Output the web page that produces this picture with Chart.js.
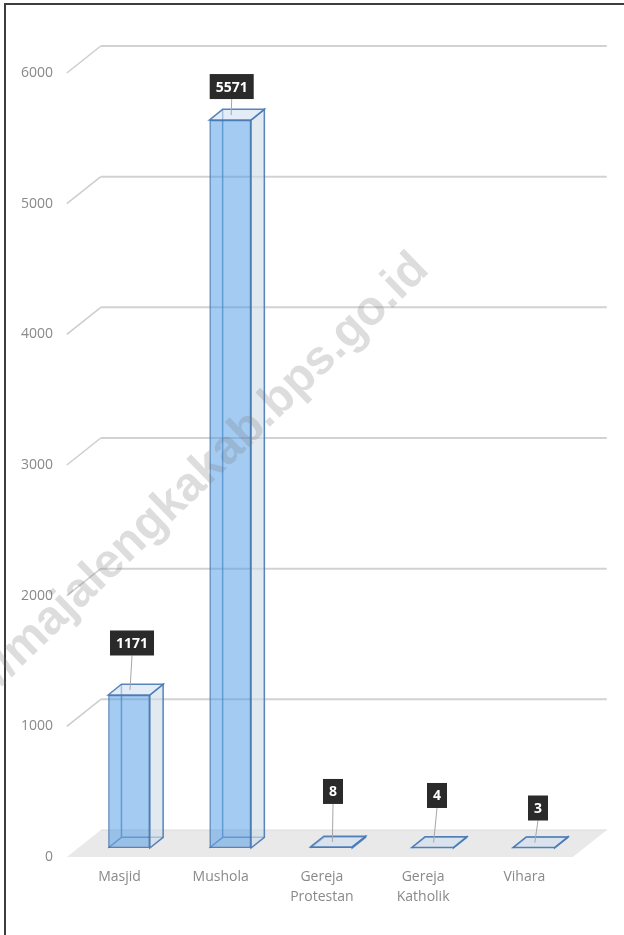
<!DOCTYPE html>
<html>
<head>
<meta charset="utf-8">
<script src="https://cdn.jsdelivr.net/npm/chart.js@4"></script>
<style>
  html, body { margin: 0; padding: 0; background: #fff; overflow: hidden; }
  #frame { position: absolute; left: 4px; top: 3px; width: 700px; height: 1000px; border: 2px solid #3d3d3d; box-sizing: border-box; }
  #c { position: absolute; left: 0; top: 0; }
</style>
</head>
<body>
<div id="frame"></div>
<canvas id="c" width="624" height="935"></canvas>
<script>
// ---- data ----
const categories = ['Masjid', 'Mushola', ['Gereja', 'Protestan'], ['Gereja', 'Katholik'], 'Vihara'];
const values = [1171, 5571, 8, 4, 3];
const valueLabels = ['1171', '5571', '8', '4', '3'];
const yMin = 0;
const yMax = 6000;
const yStep = 1000;
const watermarkText = 'http://majalengkakab.bps.go.id';

const FONT = '"Open Sans", "Liberation Sans", Arial, sans-serif';

const box3d = {
  id: 'box3d',
  beforeDatasetsDraw(chart, args, o) {
    const ctx = chart.ctx;
    const { left, right } = chart.chartArea;
    const ys = chart.scales.y;
    const y0 = ys.getPixelForValue(0);
    const ff = o.floorFront, fb = o.floorBack;
    ctx.save();
    // floor
    ctx.beginPath();
    ctx.moveTo(left + ff[0], y0 + ff[1]);
    ctx.lineTo(right + ff[0], y0 + ff[1]);
    ctx.lineTo(right + fb[0], y0 + fb[1]);
    ctx.lineTo(left + fb[0], y0 + fb[1]);
    ctx.closePath();
    ctx.fillStyle = o.floorColor;
    ctx.fill();
    ctx.strokeStyle = '#dcdcdc';
    ctx.lineWidth = 1;
    ctx.beginPath();
    ctx.moveTo(left + fb[0], y0 + fb[1]);
    ctx.lineTo(right + fb[0], y0 + fb[1]);
    ctx.stroke();
    // back-wall gridlines
    ys.ticks.forEach(t => {
      if (t.value === 0) return;
      const p = ys.getPixelForValue(t.value);
      ctx.strokeStyle = o.gridColor;
      ctx.lineWidth = 2;
      ctx.beginPath();
      ctx.moveTo(left + fb[0], p + fb[1]);
      ctx.lineTo(right + fb[0], p + fb[1]);
      ctx.stroke();
      ctx.strokeStyle = o.gridDiagColor;
      ctx.lineWidth = 1.5;
      ctx.beginPath();
      ctx.moveTo(left + ff[0], p + ff[1]);
      ctx.lineTo(left + fb[0], p + fb[1]);
      ctx.stroke();
    });
    // bar hidden edges, side and top faces
    const [dx, dy] = o.depth;
    chart.getDatasetMeta(0).data.forEach(bar => {
      const { x, y, base, width } = bar.getProps(['x', 'y', 'base', 'width'], true);
      const xl = x - width / 2, xr = x + width / 2;
      ctx.lineWidth = 1.5;
      ctx.strokeStyle = o.hiddenEdge;
      ctx.beginPath();
      ctx.moveTo(xl + dx, y + dy);
      ctx.lineTo(xl + dx, base + dy);
      ctx.lineTo(xr + dx, base + dy);
      ctx.moveTo(xl, base);
      ctx.lineTo(xl + dx, base + dy);
      ctx.stroke();
      // side face
      ctx.beginPath();
      ctx.moveTo(xr, y);
      ctx.lineTo(xr + dx, y + dy);
      ctx.lineTo(xr + dx, base + dy);
      ctx.lineTo(xr, base);
      ctx.closePath();
      ctx.fillStyle = o.sideColor;
      ctx.fill();
      ctx.strokeStyle = o.edgeColor;
      ctx.stroke();
      // top face
      ctx.beginPath();
      ctx.moveTo(xl, y);
      ctx.lineTo(xl + dx, y + dy);
      ctx.lineTo(xr + dx, y + dy);
      ctx.lineTo(xr, y);
      ctx.closePath();
      ctx.fillStyle = o.topColor;
      ctx.fill();
      ctx.strokeStyle = o.edgeColor;
      ctx.stroke();
    });
    ctx.restore();
  },
  afterDatasetsDraw(chart, args, o) {
    const ctx = chart.ctx;
    ctx.save();
    ctx.font = 'bold 14px ' + FONT;
    ctx.textAlign = 'center';
    ctx.textBaseline = 'middle';
    chart.getDatasetMeta(0).data.forEach((bar, i) => {
      const { x, y } = bar.getProps(['x', 'y'], true);
      const [ox, oy] = o.labelOffsets[i];
      const cx = x + ox, cy = y - oy;
      const txt = valueLabels[i];
      const w = ctx.measureText(txt).width + 12;
      const h = 25;
      // leader line
      ctx.strokeStyle = '#a6a6a6';
      ctx.lineWidth = 1;
      ctx.beginPath();
      ctx.moveTo(cx, cy + h / 2);
      ctx.lineTo(x + 1, y - 5);
      ctx.stroke();
      ctx.fillStyle = '#2a2a2a';
      ctx.fillRect(cx - w / 2, cy - h / 2, w, h);
      ctx.fillStyle = '#ffffff';
      ctx.fillText(txt, cx, cy + 1);
    });
    ctx.restore();
  },
  afterDraw(chart, args, o) {
    const ctx = chart.ctx;
    ctx.save();
    ctx.font = 'bold 48px "Liberation Sans", Arial, sans-serif';
    ctx.translate(o.wmAnchor[0], o.wmAnchor[1]);
    ctx.rotate(-o.wmAngle * Math.PI / 180);
    ctx.fillStyle = 'rgba(120,120,120,0.25)';
    ctx.textBaseline = 'alphabetic';
    ctx.textAlign = 'left';
    const pre = ctx.measureText('http://').width;
    ctx.fillText(watermarkText, -pre, 0);
    ctx.restore();
  }
};

new Chart(document.getElementById('c'), {
  type: 'bar',
  data: {
    labels: categories,
    datasets: [{
      data: values,
      backgroundColor: 'rgba(80,155,230,0.52)',
      borderColor: 'rgba(70,120,180,0.9)',
      borderWidth: 1.5,
      borderSkipped: false,
      barPercentage: 0.412,
      categoryPercentage: 1.0
    }]
  },
  plugins: [box3d],
  options: {
    responsive: false,
    devicePixelRatio: 1,
    animation: false,
    layout: { padding: { top: 64, right: 39.6, left: 0, bottom: 0 } },
    plugins: {
      legend: { display: false },
      tooltip: { enabled: false },
      box3d: {
        depth: [13.3, -10.7],
        floorFront: [-11.6, 9],
        floorBack: [22.4, -18],
        floorColor: '#e9e9e9',
        gridColor: '#d2d2d2',
        gridDiagColor: '#cdcdcd',
        sideColor: 'rgba(205,218,232,0.6)',
        topColor: 'rgba(205,222,240,0.55)',
        edgeColor: 'rgba(70,120,180,0.9)',
        hiddenEdge: 'rgba(70,120,180,0.75)',
        labelOffsets: [[3, 52], [1.5, 33.5], [1.6, 55.5], [4.4, 52], [4.2, 39.6]],
        wmAnchor: [20, 668],
        wmAngle: 44
      }
    },
    scales: {
      x: {
        grid: { display: false, drawTicks: false },
        border: { display: false },
        ticks: {
          color: '#898989',
          font: { family: FONT, size: 14, lineHeight: 1.43 },
          padding: 19,
          labelOffset: -9.5,
          maxRotation: 0,
          autoSkip: false
        },
        afterFit(scale) { scale.height = 87; }
      },
      y: {
        min: yMin,
        max: yMax,
        grid: { display: false, drawTicks: false },
        border: { display: false },
        ticks: {
          stepSize: yStep,
          color: '#898989',
          font: { family: FONT, size: 14 },
          padding: 25.4,
          labelOffset: 9,
          callback: v => String(v)
        },
        afterFit(scale) { scale.width = 78.4; }
      }
    }
  }
});
</script>
</body>
</html>
